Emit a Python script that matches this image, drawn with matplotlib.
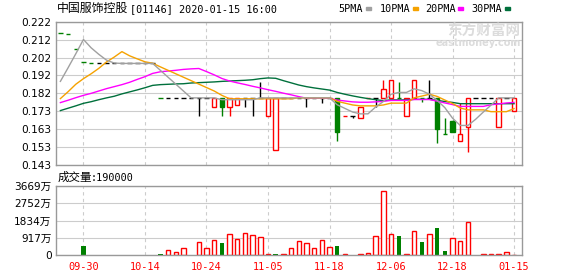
import matplotlib
matplotlib.use("Agg")
import matplotlib.pyplot as plt
from matplotlib.patches import Rectangle

# ---- data: 60 daily sessions of 01146 ----
prev_close = 0.222
opens = [0.216, 0.215, 0.207, 0.200, 0.199, 0.199, 0.199, 0.199, 0.199, 0.199,
         0.199, 0.199, 0.199, 0.180, 0.180, 0.180, 0.180, 0.180, 0.180, 0.180,
         0.175, 0.180, 0.175, 0.176, 0.180, 0.180, 0.180, 0.170, 0.151, 0.180,
         0.180, 0.180, 0.180, 0.180, 0.180, 0.180, 0.180, 0.170, 0.170, 0.169,
         0.180, 0.180, 0.180, 0.180, 0.180, 0.170, 0.180, 0.180, 0.180, 0.180,
         0.160, 0.167, 0.156, 0.164, 0.180, 0.180, 0.180, 0.164, 0.180, 0.173]
highs = [0.216, 0.215, 0.207, 0.200, 0.199, 0.199, 0.199, 0.199, 0.199, 0.199,
         0.199, 0.199, 0.199, 0.180, 0.180, 0.180, 0.180, 0.180, 0.180, 0.180,
         0.180, 0.180, 0.180, 0.180, 0.180, 0.180, 0.189, 0.180, 0.180, 0.180,
         0.180, 0.180, 0.180, 0.180, 0.180, 0.180, 0.180, 0.170, 0.170, 0.175,
         0.180, 0.180, 0.190, 0.190, 0.189, 0.180, 0.190, 0.180, 0.190, 0.180,
         0.169, 0.168, 0.177, 0.180, 0.180, 0.180, 0.180, 0.180, 0.180, 0.180]
lows = [0.216, 0.215, 0.207, 0.200, 0.199, 0.199, 0.199, 0.199, 0.199, 0.199,
        0.199, 0.199, 0.199, 0.180, 0.180, 0.180, 0.180, 0.180, 0.170, 0.180,
        0.175, 0.170, 0.170, 0.176, 0.175, 0.170, 0.180, 0.170, 0.151, 0.180,
        0.180, 0.180, 0.175, 0.180, 0.177, 0.180, 0.156, 0.170, 0.169, 0.169,
        0.180, 0.175, 0.180, 0.180, 0.180, 0.170, 0.180, 0.178, 0.180, 0.155,
        0.160, 0.161, 0.156, 0.150, 0.180, 0.180, 0.180, 0.164, 0.180, 0.173]
closes = [0.216, 0.215, 0.207, 0.200, 0.199, 0.199, 0.199, 0.199, 0.199, 0.199,
          0.199, 0.199, 0.199, 0.180, 0.180, 0.180, 0.180, 0.180, 0.180, 0.180,
          0.180, 0.175, 0.180, 0.180, 0.180, 0.180, 0.180, 0.180, 0.180, 0.180,
          0.180, 0.180, 0.180, 0.180, 0.180, 0.180, 0.161, 0.170, 0.170, 0.175,
          0.180, 0.180, 0.185, 0.190, 0.180, 0.180, 0.190, 0.180, 0.180, 0.163,
          0.160, 0.161, 0.160, 0.180, 0.180, 0.180, 0.180, 0.180, 0.180, 0.180]

ma5 = [0.1891, 0.1966, 0.2043, 0.2122, 0.2076, 0.2040, 0.2008, 0.1992, 0.1990, 0.1990,
       0.1990, 0.1990, 0.1990, 0.1952, 0.1914, 0.1876, 0.1838, 0.1800, 0.1800, 0.1800,
       0.1800, 0.1790, 0.1790, 0.1790, 0.1790, 0.1790, 0.1800, 0.1800, 0.1800, 0.1800,
       0.1800, 0.1800, 0.1800, 0.1800, 0.1800, 0.1800, 0.1762, 0.1742, 0.1722, 0.1712,
       0.1712, 0.1750, 0.1780, 0.1820, 0.1830, 0.1830, 0.1850, 0.1840, 0.1820, 0.1786,
       0.1746, 0.1688, 0.1648, 0.1648, 0.1682, 0.1722, 0.1760, 0.1800, 0.1800, 0.1800]
ma10 = [0.1796, 0.1834, 0.1875, 0.1906, 0.1933, 0.1963, 0.1998, 0.2025, 0.2055, 0.2032,
        0.2015, 0.1999, 0.1991, 0.1971, 0.1952, 0.1933, 0.1914, 0.1895, 0.1876, 0.1857,
        0.1838, 0.1814, 0.1795, 0.1795, 0.1795, 0.1795, 0.1795, 0.1795, 0.1795, 0.1795,
        0.1795, 0.1800, 0.1800, 0.1800, 0.1800, 0.1800, 0.1781, 0.1771, 0.1761, 0.1756,
        0.1756, 0.1756, 0.1761, 0.1771, 0.1771, 0.1771, 0.1800, 0.1810, 0.1820, 0.1808,
        0.1788, 0.1769, 0.1744, 0.1734, 0.1734, 0.1734, 0.1724, 0.1724, 0.1724, 0.1741]
ma20 = [0.1774, 0.1787, 0.1801, 0.1814, 0.1825, 0.1838, 0.1851, 0.1862, 0.1873, 0.1886,
        0.1902, 0.1917, 0.1935, 0.1944, 0.1948, 0.1952, 0.1957, 0.1960, 0.1962, 0.1945,
        0.1927, 0.1907, 0.1893, 0.1883, 0.1874, 0.1864, 0.1855, 0.1845, 0.1836, 0.1826,
        0.1817, 0.1807, 0.1798, 0.1798, 0.1798, 0.1798, 0.1788, 0.1783, 0.1778, 0.1776,
        0.1776, 0.1778, 0.1781, 0.1786, 0.1786, 0.1786, 0.1791, 0.1791, 0.1791, 0.1782,
        0.1772, 0.1763, 0.1753, 0.1753, 0.1753, 0.1753, 0.1762, 0.1767, 0.1772, 0.1775]
ma30 = [0.1730, 0.1743, 0.1756, 0.1770, 0.1779, 0.1790, 0.1800, 0.1809, 0.1822, 0.1833,
        0.1844, 0.1856, 0.1869, 0.1873, 0.1875, 0.1877, 0.1878, 0.1882, 0.1884, 0.1886,
        0.1888, 0.1891, 0.1893, 0.1895, 0.1897, 0.1900, 0.1906, 0.1910, 0.1908, 0.1895,
        0.1883, 0.1871, 0.1862, 0.1855, 0.1849, 0.1843, 0.1830, 0.1820, 0.1811, 0.1803,
        0.1796, 0.1790, 0.1785, 0.1789, 0.1789, 0.1789, 0.1792, 0.1792, 0.1792, 0.1786,
        0.1780, 0.1775, 0.1768, 0.1768, 0.1768, 0.1768, 0.1768, 0.1768, 0.1768, 0.1768]

# volume in 万 shares
volumes = [0, 0, 0, 476, 0, 0, 0, 0, 0, 0,
           0, 0, 0, 50, 247, 141, 353, 0, 688, 370,
           776, 635, 1094, 829, 1164, 1041, 935, 35, 35, 35,
           353, 741, 635, 353, 794, 423, 476, 40, 0, 40,
           106, 988, 3387, 1111, 1005, 40, 1270, 688, 1111, 1429,
           229, 900, 741, 1746, 0, 40, 40, 40, 141, 19]
vol_down = [3, 13, 21, 28, 36, 44, 47, 49, 50]

date_labels = ["09-30", "10-14", "10-24", "11-05", "11-18", "12-06", "12-18", "01-15"]
price_ticks = ["0.143", "0.153", "0.163", "0.173", "0.182", "0.192", "0.202", "0.212", "0.222"]
vol_ticks = ["0", "917万", "1834万", "2752万", "3669万"]
vol_max = 3669
ma_names = ["5PMA", "10PMA", "20PMA", "30PMA"]

RED = "#ff0000"
GREEN = "#008000"
MA_COLORS = ["#a0a0a0", "#f5a200", "#ff00ff", "#00703c"]
GRID = "#cccccc"
FRAME = "#999999"
MONO = "DejaVu Sans Mono"
CJK = "Noto Sans CJK SC"

W, H = 578, 276


def fx(px):
    return px / W


def fy(py):
    return 1 - py / H


fig = plt.figure(figsize=(W / 100, H / 100), dpi=100)
ax = fig.add_axes([fx(55.7), fy(165), fx(522) - fx(55.7), fy(21.7) - fy(165)])
axv = fig.add_axes([fx(55.7), fy(255), fx(522) - fx(55.7), fy(186) - fy(255)])

n = len(closes)
tick_pos = list(range(3, n, 8))

for a in (ax, axv):
    a.set_xlim(-0.61, 60.03)
    for s in a.spines.values():
        s.set_color(FRAME)
        s.set_linewidth(1)
    a.set_xticks(tick_pos)
    a.grid(True, axis="x", color=GRID, lw=0.8, ls=(0, (3, 3)))
    a.grid(True, axis="y", color=GRID, lw=0.8)
    a.set_axisbelow(True)
    a.tick_params(length=0, labelsize=7.6, pad=3)

# price panel
ax.set_ylim(0.143, 0.222)
ax.set_yticks([0.143 + k * (0.222 - 0.143) / 8 for k in range(9)])
ax.set_yticklabels(price_ticks, family="DejaVu Sans")
ax.set_xticklabels([])

# watermark
fig.text(fx(520), fy(30.5), "东方财富网", color="#dcdcdc", fontsize=10.5,
         family=CJK, weight="bold", ha="right", va="center")
fig.text(fx(521), fy(42.5), "eastmoney.com", color="#dcdcdc", fontsize=7,
         family="DejaVu Sans", weight="bold", ha="right", va="center")

x = list(range(n))
for vals, col in zip([ma30, ma20, ma10, ma5], MA_COLORS[::-1]):
    ax.plot(x, vals, color=col, lw=1.0, zorder=3)

for i in range(n):
    o, h, l, c = opens[i], highs[i], lows[i], closes[i]
    pc = prev_close if i == 0 else closes[i - 1]
    if c > o or (c == o and c > pc):
        col = RED
    elif c < o or c < pc:
        col = GREEN
    else:
        col = "black"
    if h > l:
        ax.vlines(i, l, h, color=col, lw=1, zorder=2)
    if c != o:
        face = "white" if c > o else col
        ax.bar(i, abs(c - o), bottom=min(o, c), width=0.58, facecolor=face,
               edgecolor=col, lw=1, zorder=2.5)
    else:
        ax.hlines(c, i - 0.29, i + 0.29, color=col, lw=1.0, zorder=2.5)

# volume panel
axv.set_ylim(0, vol_max)
axv.set_yticks([vol_max * k / 4 for k in range(5)])
axv.set_yticklabels(vol_ticks, family=["DejaVu Sans", CJK])
axv.set_xticklabels(date_labels, color=RED, family=MONO, fontsize=7.4)
axv.tick_params(axis="x", pad=5)
for i, v in enumerate(volumes):
    if v <= 0:
        continue
    if i in vol_down:
        axv.bar(i, v, width=0.58, color=GREEN, lw=0, zorder=2)
    else:
        axv.bar(i, v, width=0.58, facecolor="white", edgecolor=RED, lw=1, zorder=2)

# header texts
fig.text(fx(57), fy(8.7), "中国服饰控股", family=CJK, fontsize=8.6, va="center")
fig.text(fx(130), fy(8.7), "[01146] 2020-01-15 16:00", family=MONO, fontsize=7.3, va="center")
fig.text(fx(57.5), fy(177.7), "成交量", family=CJK, fontsize=8.3, va="center")
fig.text(fx(91), fy(177.7), ":190000", family=MONO, fontsize=7.3, va="center")

legend_text_x = [338.3, 380, 425, 471.7]
legend_box_x = [365.7, 413.3, 458.3, 505]
for name, tx, bx, col in zip(ma_names, legend_text_x, legend_box_x, MA_COLORS):
    fig.text(fx(tx), fy(8.7), name, family=MONO, fontsize=7.3, va="center")
    fig.add_artist(Rectangle((fx(bx), fy(10.3)), 5 / W, 3 / H,
                             transform=fig.transFigure, color=col))

fig.savefig("out.png", dpi=100)
